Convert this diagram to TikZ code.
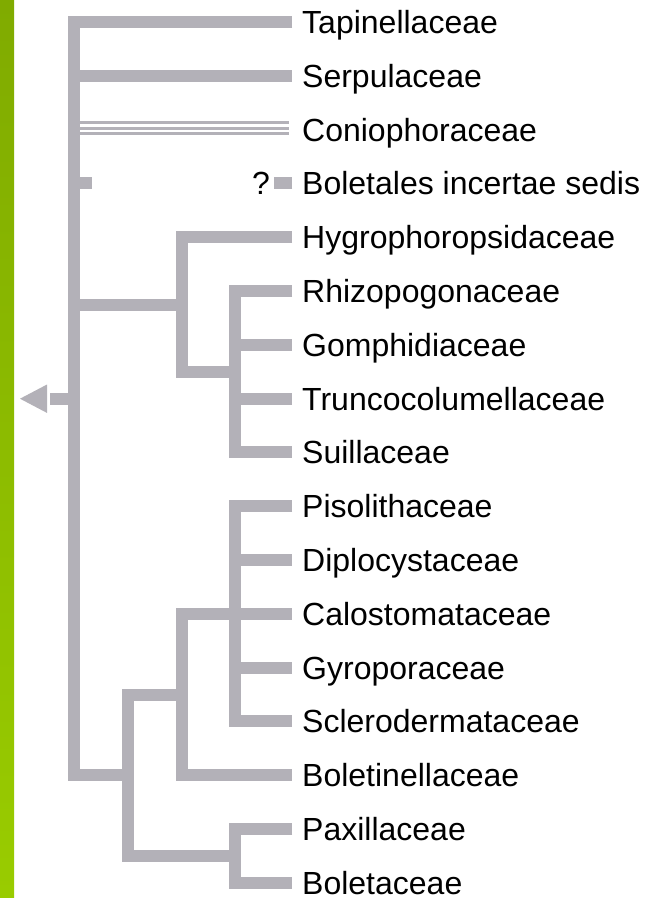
\documentclass[tikz,border=0pt]{standalone}
\usepackage{fontspec}
\setmainfont{Liberation Sans}
\definecolor{cladegray}{RGB}{179,177,184}
\definecolor{greentop}{RGB}{128,171,0}
\definecolor{greenbot}{RGB}{153,204,0}
\begin{document}
\begin{tikzpicture}[x=1pt,y=-1pt,
  branch/.style={draw=cladegray, line width=12pt, line join=miter, line cap=butt},
  thinbranch/.style={draw=cladegray, line width=3pt, line cap=butt},
  taxon/.style={anchor=base west, inner sep=0pt, text=black, font=\fontsize{32}{38}\selectfont},
  qmark/.style={anchor=base east, inner sep=0pt, text=black, font=\fontsize{32}{38}\selectfont},
]
\useasboundingbox (0,0) rectangle (650,898);
\fill[white] (0,0) rectangle (650,898);
\shade[top color=greentop, bottom color=greenbot] (0,0) rectangle (14,898);

% rows
\def\rs{53.8}
\foreach \i/\name/\lab in {0/tap/Tapinellaceae,1/ser/Serpulaceae,2/con/Coniophoraceae,
  3/inc/Boletales incertae sedis,4/hyg/Hygrophoropsidaceae,5/rhi/Rhizopogonaceae,
  6/gom/Gomphidiaceae,7/tru/Truncocolumellaceae,8/sui/Suillaceae,9/pis/Pisolithaceae,
  10/dip/Diplocystaceae,11/cal/Calostomataceae,12/gyr/Gyroporaceae,
  13/scl/Sclerodermataceae,14/btn/Boletinellaceae,15/pax/Paxillaceae,16/bol/Boletaceae}{
  \coordinate (e\name) at (292,{22+\rs*\i});
  \node[taxon] (t\name) at (302,{22+\rs*\i+11.5}) {\lab};
}

% internal nodes
\coordinate (root) at (74,398.7);
\coordinate (nSuO) at (181.6,304.5);
\coordinate (nSuI) at (235.4,371.8);
\coordinate (nScl) at (235.4,613.8);
\coordinate (nSB)  at (181.6,694.5);
\coordinate (nPax) at (235.4,855.9);
\coordinate (nB)   at (127.8,775.2);

% root bracket
\draw[branch] (etap) -| (root) |- (nB);
\draw[branch] (root |- eser) -- (eser);
\draw[branch] (root |- nSuO) -- (nSuO);
% Coniophoraceae (three thin lines)
\foreach \d in {-7.1,-1.6,3.9}
  \draw[thinbranch] ([xshift=6pt,yshift=-\d pt]root |- econ) -- ([xshift=-3pt,yshift=-\d pt]econ);
% incertae sedis
\draw[branch] (root |- einc) -- ++(18,0);
\draw[branch] (einc) -- ++(-18,0);
\node[qmark] (q) at (270,{22+\rs*3+11.5}) {?};

% Suillineae
\draw[branch] (ehyg) -| (nSuO) |- (nSuI);
\draw[branch] (erhi) -| (nSuI) |- (esui);
\draw[branch] (nSuI |- egom) -- (egom);
\draw[branch] (nSuI |- etru) -- (etru);

% Sclerodermatineae
\draw[branch] (epis) -| (nScl) |- (escl);
\draw[branch] (nScl |- edip) -- (edip);
\draw[branch] (nScl |- ecal) -- (ecal);
\draw[branch] (nScl |- egyr) -- (egyr);
\draw[branch] (nScl) -| (nSB) |- (ebtn);

% Paxillineae / Boletineae
\draw[branch] (epax) -| (nPax) |- (ebol);
\draw[branch] (nSB) -| (nB) |- (nPax);

% root stub and arrow
\coordinate (stub) at (50,398.7);
\draw[branch] (root) -- (stub);
\fill[cladegray] (20,398.7) -- (47,384.5) -- (47,412.9) -- cycle;
\end{tikzpicture}
\end{document}
